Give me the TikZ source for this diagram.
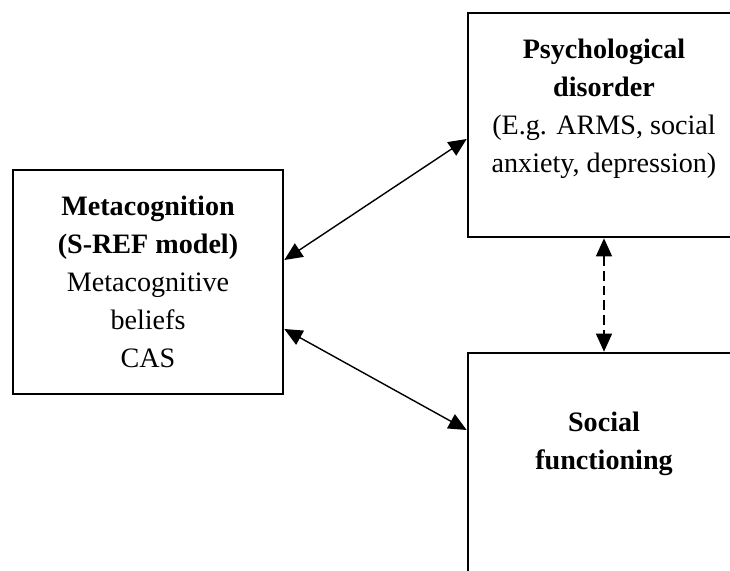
\documentclass[tikz,border=0pt]{standalone}
\usepackage{fontspec}
\setmainfont{Liberation Serif}
\usetikzlibrary{arrows.meta,positioning}
\begin{document}
\begin{tikzpicture}[
    box/.style={draw=black, line width=1.9pt, rectangle, inner sep=0pt},
    txt/.style={black, align=center, inner sep=0pt, font=\fontsize{20}{27}\selectfont},
    link/.style={draw=black, line width=1pt, {Triangle[length=0.45cm,width=0.4cm]}-{Triangle[length=0.45cm,width=0.4cm]}}
]
    \useasboundingbox (0,0) rectangle (18.25,-14.25);
    \clip (0,0) rectangle (18.25,-14.25);
    % boxes
    \node[box, minimum width=6.75cm, minimum height=5.6cm] (meta) at (3.7,-7.05) {};
    \node[box, minimum width=6.8cm, minimum height=5.6cm] (psych) at (15.1,-3.125) {};
    \node[box, minimum width=6.8cm, minimum height=5.6cm] (social) at (15.1,-11.625) {};
    % texts
    \node[txt] (metatxt) at (meta.center) {\textbf{Metacognition}\\\textbf{(S-REF model)}\\Metacognitive\\beliefs\\CAS};
    \node[txt] (psychtxt) at ([yshift=-2.42cm]psych.north) {\textbf{Psychological}\\\textbf{disorder}\\(E.g. ARMS, social\\anxiety, depression)};
    \node[txt] (socialtxt) at ([yshift=-2.3cm]social.north) {\textbf{Social}\\\textbf{functioning}};
    % links
    \draw[link] ([yshift=0.55cm]meta.east) -- ([yshift=-0.35cm]psych.west);
    \draw[link] ([yshift=-1.175cm]meta.east) -- ([yshift=0.875cm]social.west);
    \draw[link, dash pattern=on 7pt off 3.5pt] (psych.south) -- (social.north);
\end{tikzpicture}
\end{document}
